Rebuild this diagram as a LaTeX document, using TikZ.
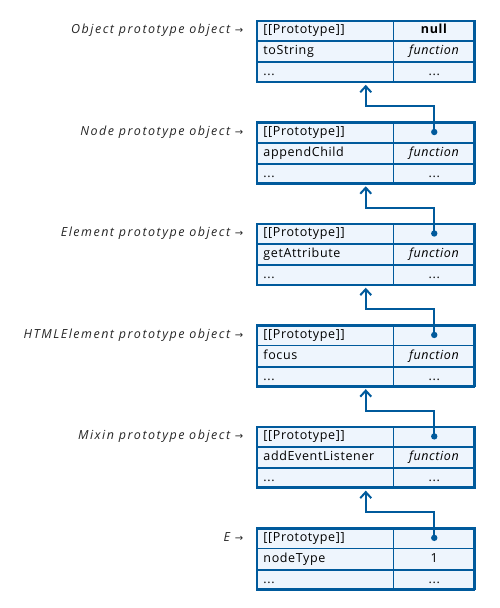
\documentclass[tikz,border=0pt]{standalone}
\usepackage{fontspec}
\setmainfont{Open Sans}[LetterSpace=5]
\newfontfamily\labfont{Open Sans}[LetterSpace=12]
\newfontfamily\arrowfont{DejaVu Sans}
\usetikzlibrary{arrows.meta,calc}
\definecolor{tblue}{HTML}{005A9C}
\definecolor{tfill}{HTML}{EEF5FD}
\tikzset{
  tbl/.style={draw=tblue, fill=tfill, line width=2.2pt, minimum width=217.3pt, minimum height=60.6pt, inner sep=0pt},
  cellbase/.style={draw=tblue, line width=0.9pt, minimum height=20.2pt, text height=9pt, text depth=2.6pt, inner xsep=7pt, inner ysep=0pt},
  keycell/.style={cellbase, text width=122.5pt, align=left},
  valcell/.style={cellbase, text width=66.8pt, align=center},
  lab/.style={inner sep=0pt, text=black!85, font=\labfont\itshape\fontsize{12.5}{14}\selectfont},
  conn/.style={draw=tblue, line width=2pt, -{Straight Barb[length=6pt,width=11pt]}, shorten >=2pt},
  protodot/.style={fill=tblue}
}
\begin{document}
\begin{tikzpicture}[x=1pt,y=-1pt,font=\fontsize{12.5}{14}\selectfont]
\useasboundingbox (0,0) rectangle (500,608);
\foreach \i/\lab/\pv/\key/\val in {
  0/{Object prototype object}/{\textbf{null}}/toString/{\textit{function}},
  1/{Node prototype object}/{}/appendChild/{\textit{function}},
  2/{Element prototype object}/{}/getAttribute/{\textit{function}},
  3/{HTMLElement prototype object}/{}/focus/{\textit{function}},
  4/{Mixin prototype object}/{}/addEventListener/{\textit{function}},
  5/{E}/{}/nodeType/{1}}
{
  \pgfmathsetmacro\tp{20+101.46*\i}
  \node[tbl, anchor=north west] (t\i) at (256,\tp) {};
  \node[keycell, anchor=north west] (ka\i) at (t\i.north west) {[[Prototype]]};
  \node[keycell, anchor=north west] (kb\i) at (ka\i.south west) {\key};
  \node[keycell, anchor=north west] (kc\i) at (kb\i.south west) {...};
  \node[valcell, anchor=north west] (va\i) at (ka\i.north east) {\pv};
  \node[valcell, anchor=north west] (vb\i) at (kb\i.north east) {\val};
  \node[valcell, anchor=north west] (vc\i) at (kc\i.north east) {...};
  \node[lab, anchor=base east] (l\i) at ($(ka\i.base west)+(-12.5,0)$) {\lab~{\upshape\arrowfont\fontsize{10}{12}\selectfont →}};
}
\foreach \i in {1,...,5}{
  \pgfmathtruncatemacro\j{\i-1}
  \fill[protodot] (va\i.center) circle (3.2pt);
  \draw[conn] (va\i.center) |- ($(t\j.south)+(0,23.6)$) -- (t\j.south);
}
\end{tikzpicture}
\end{document}
